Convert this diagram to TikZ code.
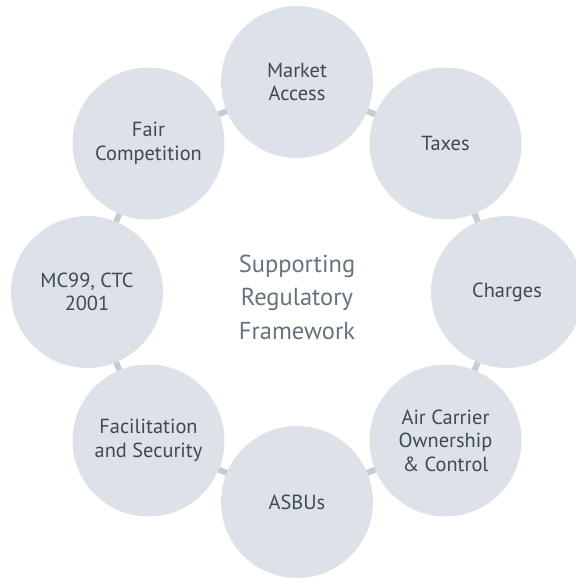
\documentclass[tikz,border=0pt]{standalone}
\usepackage{fontspec}
\setmainfont{PT Sans}
\usetikzlibrary{backgrounds}
\definecolor{cfill}{HTML}{DCE2E7}
\definecolor{clink}{HTML}{C7CDD1}
\definecolor{ctext}{HTML}{3E4A52}
\definecolor{cmid}{HTML}{66737C}
\tikzset{
  bubble/.style={circle, fill=cfill, minimum size=152pt, inner sep=0pt, align=center,
    text=ctext, font=\fontsize{20.4}{23.5}\selectfont},
  link/.style={draw=clink, line width=6pt}
}
\begin{document}
\begin{tikzpicture}[x=1pt,y=-1pt]
\useasboundingbox (0,0) rectangle (576,579);
\node[bubble] (ma) at (297+210*cos 90,292-210*sin 90) {Market\\Access};
\node[bubble] (tx) at (297+210*cos 45,292-210*sin 45) {Taxes};
\node[bubble] (ch) at (297+210*cos 0,292-210*sin 0) {Charges};
\node[bubble] (ac) at (297+210*cos -45,292-210*sin -45) {Air Carrier\\Ownership\\\& Control};
\node[bubble] (as) at (297+210*cos -90,292-210*sin -90) {ASBUs};
\node[bubble] (fs) at (297+210*cos -135,292-210*sin -135) {Facilitation\\and Security};
\node[bubble] (mc) at (297+210*cos 180,292-210*sin 180) {MC99, CTC\\2001};
\node[bubble] (fc) at (297+210*cos 135,292-210*sin 135) {Fair\\Competition};
\node[text=cmid, align=center, font=\fontsize{24.5}{33.5}\selectfont] (mid) at (297,297)
  {Supporting\\Regulatory\\Framework};
\begin{scope}[on background layer]
\draw[link] (ma.center) -- (tx.center);
\draw[link] (tx.center) -- (ch.center);
\draw[link] (ch.center) -- (ac.center);
\draw[link] (ac.center) -- (as.center);
\draw[link] (as.center) -- (fs.center);
\draw[link] (fs.center) -- (mc.center);
\draw[link] (mc.center) -- (fc.center);
\draw[link] (fc.center) -- (ma.center);
\end{scope}
\end{tikzpicture}
\end{document}
